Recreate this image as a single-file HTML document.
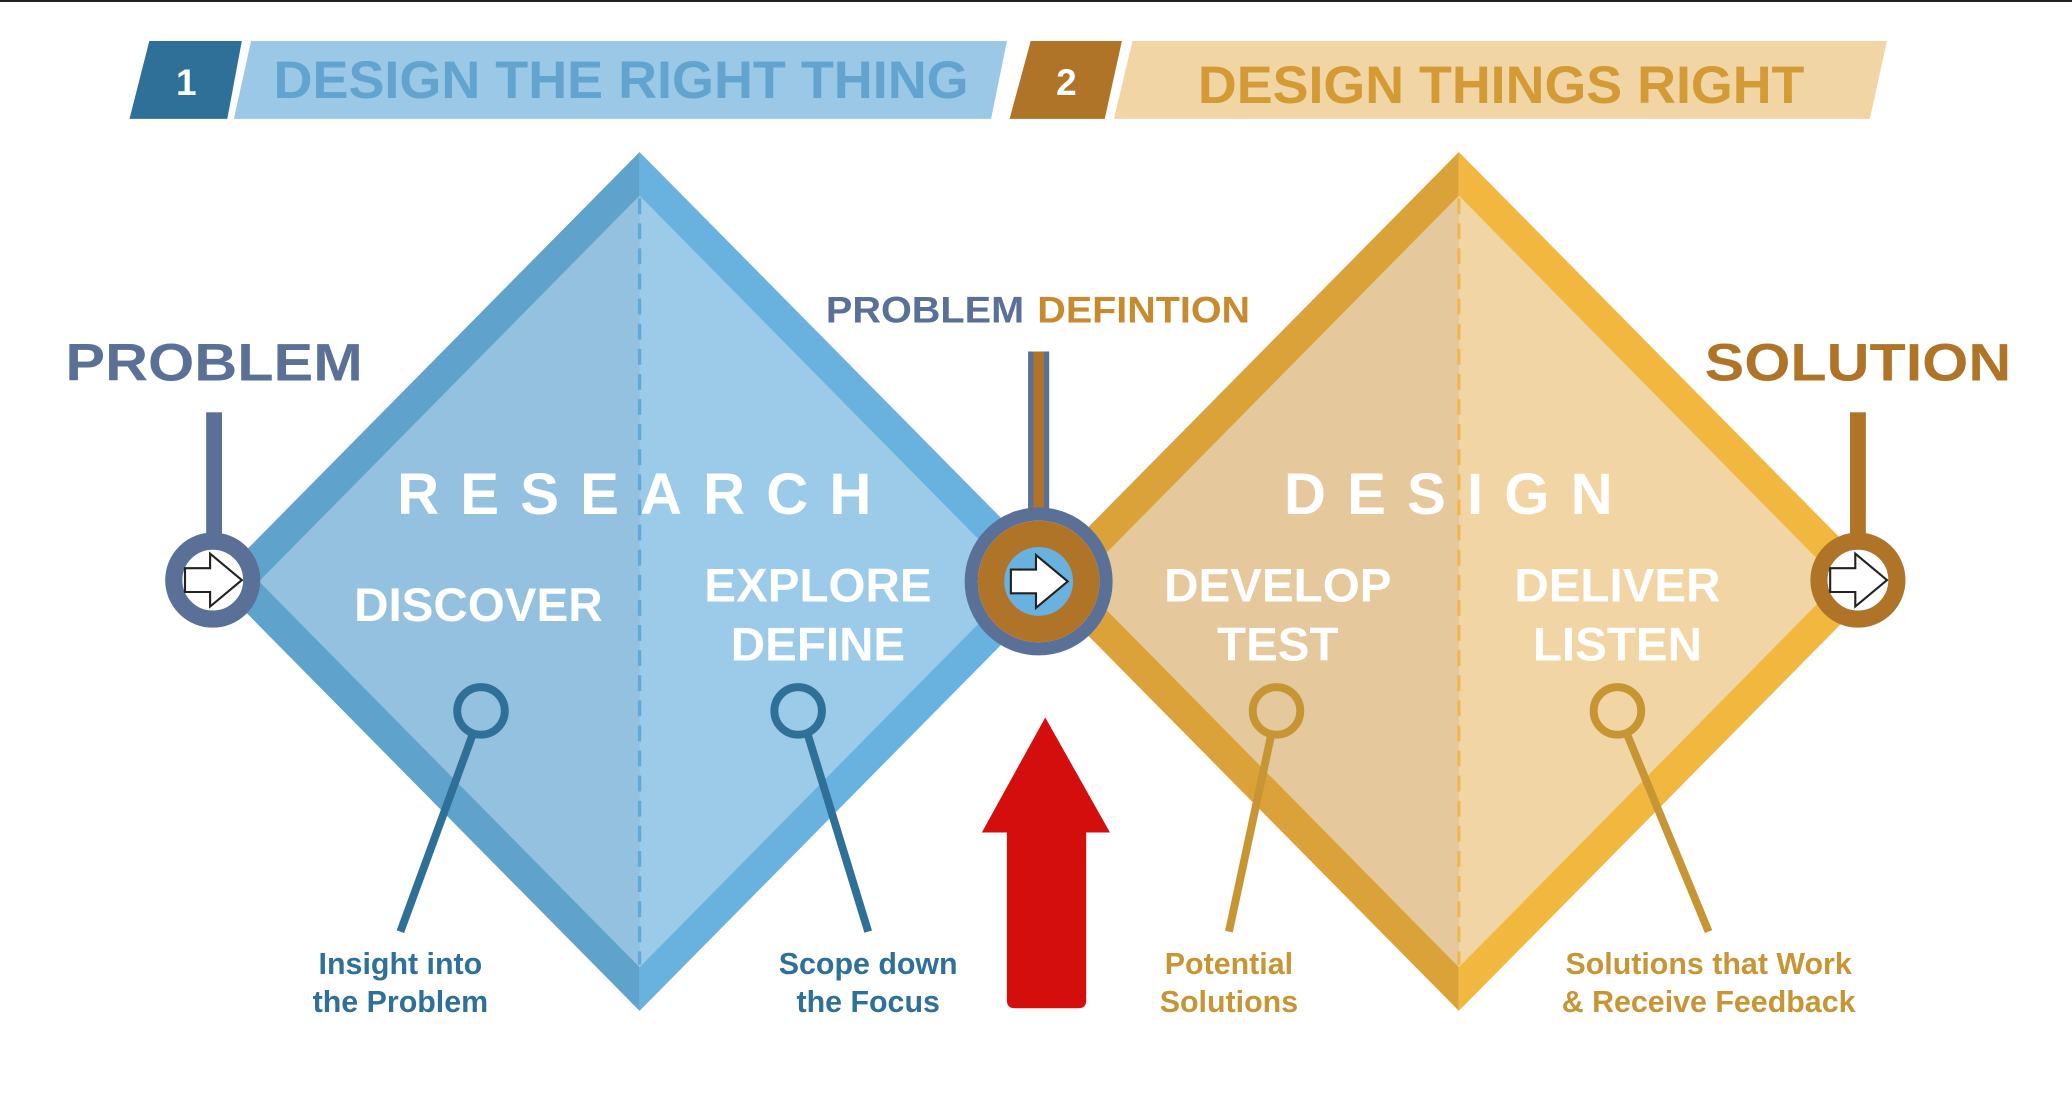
<!DOCTYPE html>
<html><head><meta charset="utf-8"><style>
html,body{margin:0;padding:0;background:#fff;}
svg{display:block;}
text{font-family:"Liberation Sans",Arial,sans-serif;font-weight:bold;}
</style></head><body>
<svg width="2072" height="1096" viewBox="0 0 1568 829.4" preserveAspectRatio="none" xmlns="http://www.w3.org/2000/svg">
<defs>
<g id="arr"><path d="M-21,-9 L-2,-9 L-2,-20 L22,0 L-2,20 L-2,9 L-21,9 Z" fill="#fff" stroke="#222" stroke-width="1.6" stroke-linejoin="miter"/></g>
</defs>
<rect x="0" y="0" width="1568" height="1.5" fill="#222"/>
<!-- banners -->
<polygon points="113,31 183,31 172,90 98,90" fill="#2f7098"/>
<text x="141" y="72" font-size="28" fill="#fff" text-anchor="middle" font-weight="normal">1</text>
<polygon points="190,31 762,31 750,90 177,90" fill="#9ac8e6"/>
<text x="470" y="74" font-size="40" fill="#62a3cf" text-anchor="middle" textLength="526" lengthAdjust="spacingAndGlyphs">DESIGN THE RIGHT THING</text>
<polygon points="780,31 849,31 836,90 764,90" fill="#b07428"/>
<text x="807" y="72" font-size="28" fill="#fff" text-anchor="middle">2</text>
<polygon points="857,31 1428,31 1415,90 843,90" fill="#f2d5a4"/>
<text x="1136" y="78" font-size="40" fill="#d49a35" text-anchor="middle" textLength="459" lengthAdjust="spacingAndGlyphs">DESIGN THINGS RIGHT</text>
<!-- left diamond -->
<polygon points="484,115 163,440 484,765" fill="#5fa3cd"/>
<polygon points="484,115 805,440 484,765" fill="#69b2e0"/>
<polygon points="484,148 196,440 484,732" fill="#94c1df"/>
<polygon points="484,148 772,440 484,732" fill="#9bcbe8"/>
<line x1="484" y1="150" x2="484" y2="730" stroke="#62a8d8" stroke-width="2.5" stroke-dasharray="12,7"/>
<!-- right diamond -->
<polygon points="1104,115 783,440 1104,765" fill="#dca23a"/>
<polygon points="1104,115 1425,440 1104,765" fill="#f1b73f"/>
<polygon points="1104,148 816,440 1104,732" fill="#e5c99c"/>
<polygon points="1104,148 1392,440 1104,732" fill="#f2d5a4"/>
<line x1="1104" y1="150" x2="1104" y2="730" stroke="#f0b850" stroke-width="2.5" stroke-dasharray="12,7"/>
<!-- diamond labels -->
<text x="488" y="389" font-size="44" fill="#fff" text-anchor="middle" letter-spacing="16">RESEARCH</text>
<text x="1104" y="389" font-size="44" fill="#fff" text-anchor="middle" letter-spacing="16">DESIGN</text>
<text x="362" y="470" font-size="36" fill="#fff" text-anchor="middle">DISCOVER</text>
<text x="619" y="455" font-size="36" fill="#fff" text-anchor="middle">EXPLORE</text>
<text x="619" y="500" font-size="36" fill="#fff" text-anchor="middle">DEFINE</text>
<text x="967" y="455" font-size="36" fill="#fff" text-anchor="middle">DEVELOP</text>
<text x="967" y="500" font-size="36" fill="#fff" text-anchor="middle">TEST</text>
<text x="1224" y="455" font-size="36" fill="#fff" text-anchor="middle">DELIVER</text>
<text x="1224" y="500" font-size="36" fill="#fff" text-anchor="middle">LISTEN</text>
<!-- pins -->
<g fill="none" stroke-width="6">
<line x1="358" y1="555" x2="303" y2="705" stroke="#2f7098"/>
<circle cx="364" cy="538" r="18" stroke="#2f7098"/>
<line x1="611" y1="555" x2="657" y2="705" stroke="#2f7098"/>
<circle cx="604" cy="538" r="18" stroke="#2f7098"/>
<line x1="962" y1="556" x2="930" y2="705" stroke="#c89535"/>
<circle cx="966" cy="538" r="18" stroke="#c89535"/>
<line x1="1231" y1="555" x2="1293" y2="705" stroke="#c89535"/>
<circle cx="1224" cy="538" r="18" stroke="#c89535"/>
</g>
<text x="303" y="737" font-size="23" fill="#2f7098" text-anchor="middle">Insight into</text>
<text x="303" y="766" font-size="23" fill="#2f7098" text-anchor="middle">the Problem</text>
<text x="657" y="737" font-size="23" fill="#2f7098" text-anchor="middle">Scope down</text>
<text x="657" y="766" font-size="23" fill="#2f7098" text-anchor="middle">the Focus</text>
<text x="930" y="737" font-size="23" fill="#c89535" text-anchor="middle">Potential</text>
<text x="930" y="766" font-size="23" fill="#c89535" text-anchor="middle">Solutions</text>
<text x="1293" y="737" font-size="23" fill="#c89535" text-anchor="middle">Solutions that Work</text>
<text x="1293" y="766" font-size="23" fill="#c89535" text-anchor="middle">&amp; Receive Feedback</text>
<!-- PROBLEM left -->
<text x="162" y="288" font-size="40" fill="#5a7096" text-anchor="middle" textLength="225" lengthAdjust="spacingAndGlyphs">PROBLEM</text>
<rect x="156" y="312" width="12" height="100" fill="#5a7096"/>
<circle cx="161" cy="439" r="29.5" fill="#fff" stroke="#5a7096" stroke-width="13"/>
<use href="#arr" x="161" y="439"/>
<!-- SOLUTION -->
<text x="1406" y="288" font-size="40" fill="#b07428" text-anchor="middle" textLength="232" lengthAdjust="spacingAndGlyphs">SOLUTION</text>
<rect x="1400" y="312" width="12" height="100" fill="#b07428"/>
<circle cx="1406" cy="439" r="29.5" fill="#fff" stroke="#b07428" stroke-width="13"/>
<use href="#arr" x="1406" y="439"/>
<!-- PROBLEM DEFINITION -->
<text x="625" y="244" font-size="28" fill="#5a7096" textLength="150" lengthAdjust="spacingAndGlyphs">PROBLEM</text>
<text x="785" y="244" font-size="28" fill="#c88a2f" textLength="161" lengthAdjust="spacingAndGlyphs">DEFINTION</text>
<rect x="778" y="266" width="16" height="124" fill="#5a7096"/>
<rect x="782" y="266" width="8" height="124" fill="#b07428"/>
<circle cx="786" cy="440" r="51" fill="#fff" stroke="#5a7096" stroke-width="10"/>
<circle cx="786" cy="440" r="36" fill="#69b2e0" stroke="#b07428" stroke-width="20"/>
<use href="#arr" x="786" y="440"/>
<!-- red arrow -->
<path d="M791,543 L840,630 L822,630 L822,757 Q822,763 816,763 L768,763 Q762,763 762,757 L762,630 L743,630 Z" fill="#d40d0d"/>
</svg>
</body></html>
